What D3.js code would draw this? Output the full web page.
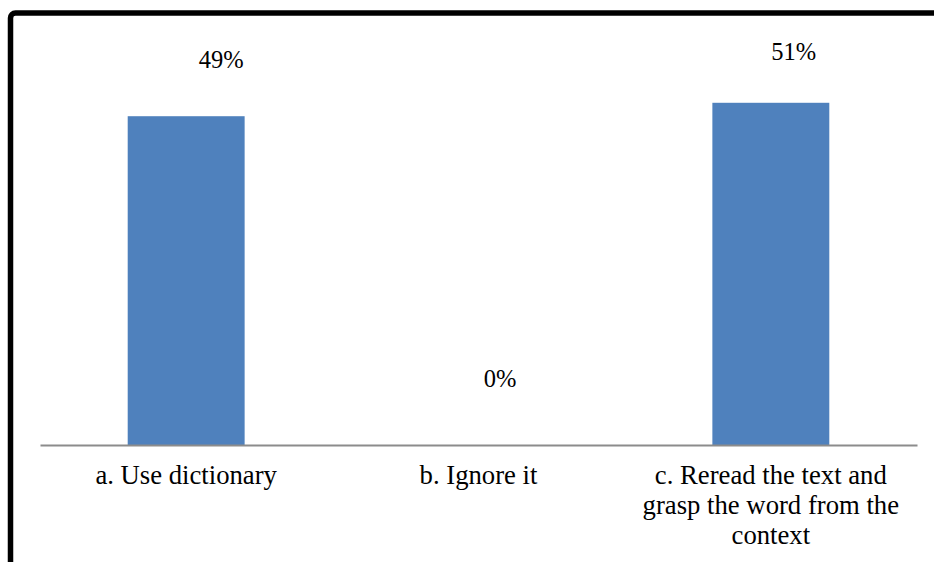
<!DOCTYPE html>
<html>
<head>
<meta charset="utf-8">
<script src="https://cdn.jsdelivr.net/npm/d3@7"></script>
<style>
  html, body { margin:0; padding:0; background:#fff; }
  svg { display:block; }
</style>
</head>
<body>
<svg id="chart" width="934" height="562"></svg>
<script>
// data
const categories = ['a. Use dictionary', 'b. Ignore it', 'c. Reread the text and grasp the word from the context'];
const values = [0.49, 0, 0.51];
const valueLabels = ['49%', '0%', '51%'];

// data labels were dragged around in the original, keep their nudges here
const labelNudge = [{dx:35, dy:-48}, {dx:21.5, dy:-58}, {dx:23, dy:-43}];

const W = 934, H = 562;
const FONT = "'Liberation Serif', 'Times New Roman', Times, serif";
const svg = d3.select('#chart');

// frame (only top + left visible, rest runs off the page)
svg.append('rect')
  .attr('x', 10.5).attr('y', 13)
  .attr('width', W + 20).attr('height', H + 20)
  .attr('rx', 5)
  .attr('fill', 'none').attr('stroke', '#000').attr('stroke-width', 5.5);

const x = d3.scaleBand().domain(categories).range([40, 917]).paddingInner(0.6).paddingOuter(0.3);
const y = d3.scaleLinear().domain([0, 0.6]).range([445, 42.4]);

const g = svg.append('g');

g.selectAll('rect.bar').data(categories)
  .join('rect').attr('class','bar')
  .attr('x', d => x(d))
  .attr('width', x.bandwidth())
  .attr('y', (d,i) => y(values[i]))
  .attr('height', (d,i) => y(0) - y(values[i]))
  .attr('fill', '#4F81BD');

// axis line
const xAxis = d3.axisBottom(x).tickSize(0).tickFormat('');
const ax = g.append('g').attr('transform', `translate(0,${y(0)})`).call(xAxis);
ax.select('.domain').attr('stroke', '#8c8c8c').attr('stroke-width', 2);

// value labels
g.selectAll('text.val').data(categories)
  .join('text').attr('class','val')
  .attr('x', (d,i) => x(d) + x.bandwidth()/2 + labelNudge[i].dx)
  .attr('y', (d,i) => Math.min(y(values[i]), y(0)) + labelNudge[i].dy)
  .attr('text-anchor', 'middle')
  .attr('font-family', FONT)
  .attr('font-size', 24.5)
  .attr('fill', '#000')
  .text((d,i) => valueLabels[i]);

// category labels, wrapped
const maxW = 270;
g.selectAll('text.cat').data(categories)
  .join('text').attr('class','cat')
  .attr('text-anchor', 'middle')
  .attr('font-family', FONT)
  .attr('font-size', 26.7)
  .attr('fill', '#000')
  .each(function(d){
    const t = d3.select(this);
    const cx = x(d) + x.bandwidth()/2;
    const words = d.split(' ');
    let lines = [], line = [];
    const probe = t.append('tspan');
    words.forEach(w => {
      line.push(w);
      probe.text(line.join(' '));
      if (probe.node().getComputedTextLength() > maxW && line.length > 1){
        line.pop(); lines.push(line.join(' ')); line = [w];
      }
    });
    lines.push(line.join(' '));
    probe.remove();
    lines.forEach((l, k) => {
      t.append('tspan').attr('x', cx).attr('y', 484 + k*30).text(l);
    });
  });
</script>
</body>
</html>
